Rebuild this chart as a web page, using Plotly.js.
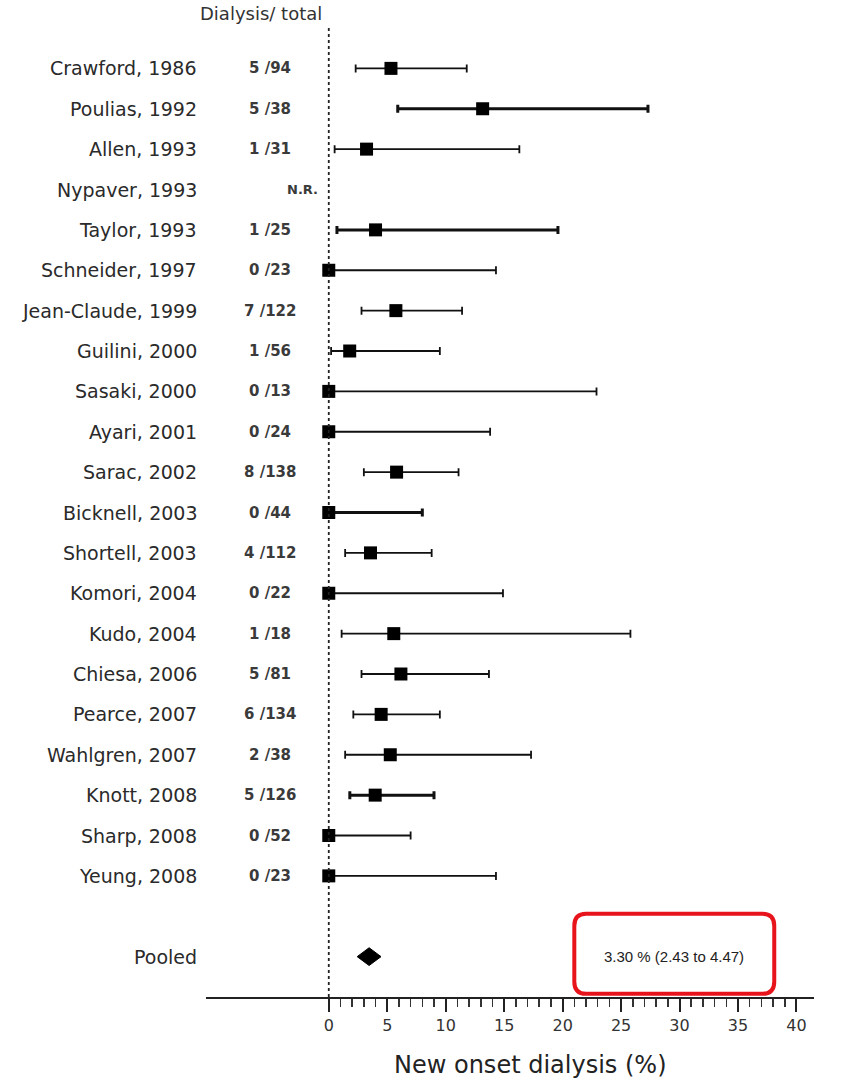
<!DOCTYPE html>
<html><head><meta charset="utf-8">
<script src="https://cdn.plot.ly/plotly-3.0.1.min.js"></script>
<style>html,body{margin:0;padding:0;background:#fff}#chart{width:848px;height:1079px}</style>
</head><body><div id="chart"></div>
<script>
const studies = ["Crawford, 1986","Poulias, 1992","Allen, 1993","Nypaver, 1993","Taylor, 1993","Schneider, 1997","Jean-Claude, 1999","Guilini, 2000","Sasaki, 2000","Ayari, 2001","Sarac, 2002","Bicknell, 2003","Shortell, 2003","Komori, 2004","Kudo, 2004","Chiesa, 2006","Pearce, 2007","Wahlgren, 2007","Knott, 2008","Sharp, 2008","Yeung, 2008"];
const counts = ["5 /94","5 /38","1 /31","N.R.","1 /25","0 /23","7 /122","1 /56","0 /13","0 /24","8 /138","0 /44","4 /112","0 /22","1 /18","5 /81","6 /134","2 /38","5 /126","0 /52","0 /23"];
const estimate = [5.32,13.16,3.23,null,4.0,0,5.74,1.79,0,0,5.8,0,3.57,0,5.56,6.17,4.48,5.26,3.97,0,0];
const lower = [2.3,5.9,0.5,null,0.7,0,2.8,0.2,0,0,3.0,0,1.4,0,1.1,2.8,2.1,1.4,1.8,0,0];
const upper = [11.8,27.3,16.3,null,19.6,14.3,11.4,9.5,22.9,13.8,11.1,8.0,8.8,14.9,25.8,13.7,9.5,17.3,9.0,7.0,14.3];
const pooledLabel = "Pooled";
const pooledEst = 3.30, pooledLow = 2.43, pooledHigh = 4.47;
const pooledText = "3.30 % (2.43 to 4.47)";
const xTitle = "New onset dialysis (%)";
const xTicks = [0,5,10,15,20,25,30,35,40];
const xMinor = [1,2,3,4,6,7,8,9,11,12,13,14,16,17,18,19,21,22,23,24,26,27,28,29,31,32,33,34,36,37,38,39];
const thickRows = ["Poulias, 1992","Taylor, 1993","Bicknell, 2003","Knott, 2008"];

const pooledRow = studies.length + 1;
const FONT = 'DejaVu Sans, Arial, sans-serif';

const traces = [];
studies.forEach((s,i)=>{
  if (estimate[i] === null) return;
  const thick = thickRows.includes(s);
  traces.push({
    type:'scatter', mode:'markers', x:[estimate[i]], y:[i],
    marker:{symbol:'square', size:13, color:'#000'},
    error_x:{type:'data', symmetric:false, array:[upper[i]-estimate[i]], arrayminus:[estimate[i]-lower[i]],
      color:'#111', thickness: thick?3:1.8, width:4},
    cliponaxis:false, hoverinfo:'skip', showlegend:false
  });
});
const pm = (pooledLow+pooledHigh)/2;
traces.push({
  type:'scatter', mode:'lines', fill:'toself', fillcolor:'#000',
  x:[pooledLow, pm, pooledHigh, pm, pooledLow],
  y:[pooledRow, pooledRow-0.22, pooledRow, pooledRow+0.22, pooledRow],
  line:{color:'#000', width:1}, hoverinfo:'skip', showlegend:false
});

const annotations = [];
const lblFont = {family:FONT, size:19, color:'#2a2a2a'};
const labelX = -0.0115;
studies.forEach((s,i)=>{
  annotations.push({x:labelX, y:i, xref:'paper', yref:'y', text:s, showarrow:false, xanchor:'right', yanchor:'middle', font:lblFont});
  const nr = counts[i]==='N.R.';
  annotations.push({x: nr? -2.25 : -5, y:i, xref:'x', yref:'y', text:'<b>'+counts[i]+'</b>', showarrow:false,
    xanchor:'center', yanchor:'middle', font:{family:FONT, size: nr?13:15, color:'#3a3a3a'}});
});
annotations.push({x:labelX, y:pooledRow, xref:'paper', yref:'y', text:pooledLabel, showarrow:false, xanchor:'right', yanchor:'middle', font:lblFont});
annotations.push({x:0.0905, y:1.0145, xref:'paper', yref:'paper', text:'Dialysis/ total', showarrow:false, xanchor:'center', yanchor:'middle',
  font:{family:FONT, size:18, color:'#333'}});
annotations.push({x:29.5, y:pooledRow, xref:'x', yref:'y', text:pooledText, showarrow:false, xanchor:'center', yanchor:'middle',
  font:{family:'Liberation Sans Narrow, Liberation Sans, Arial, sans-serif', size:15, color:'#222'}});
annotations.push({x:0.533, y:-0.070, xref:'paper', yref:'paper', text:xTitle, showarrow:false, xanchor:'center', yanchor:'middle',
  font:{family:FONT, size:24, color:'#222'}});

const bx0=21.0, bx1=38.1, by0=20.94, by1=22.92, rx=1.0, ry=0.3;
const boxPath = `M ${bx0+rx},${by0} L ${bx1-rx},${by0} Q ${bx1},${by0} ${bx1},${by0+ry} L ${bx1},${by1-ry} Q ${bx1},${by1} ${bx1-rx},${by1} L ${bx0+rx},${by1} Q ${bx0},${by1} ${bx0},${by1-ry} L ${bx0},${by0+ry} Q ${bx0},${by0} ${bx0+rx},${by0} Z`;

const layout = {
  width:848, height:1079,
  margin:{l:206, r:34, t:28, b:82},
  paper_bgcolor:'#fff', plot_bgcolor:'#fff',
  showlegend:false,
  xaxis:{range:[-10.5,41.5], tickmode:'array', tickvals:xTicks, ticktext:xTicks.map(String),
    ticks:'outside', ticklen:13, tickwidth:2, tickcolor:'#222',
    minor:{tickmode:'array', tickvals:xMinor, ticks:'outside', ticklen:8, tickwidth:1.5, tickcolor:'#333', showgrid:false},
    showline:true, linecolor:'#222', linewidth:2, showgrid:false, zeroline:false,
    tickfont:{family:FONT, size:16, color:'#333'},
    fixedrange:true},
  yaxis:{range:[23,-1], showgrid:false, zeroline:false, showticklabels:false, ticks:'', showline:false, fixedrange:true},
  shapes:[
    {type:'line', xref:'x', yref:'paper', x0:0, x1:0, y0:0, y1:1, line:{color:'#222', width:1.8, dash:'dot'}},
    {type:'path', xref:'x', yref:'y', path:boxPath, line:{color:'#e8141b', width:4}}
  ],
  annotations: annotations
};
Plotly.newPlot('chart', traces, layout, {displayModeBar:false, staticPlot:true});
</script></body></html>
